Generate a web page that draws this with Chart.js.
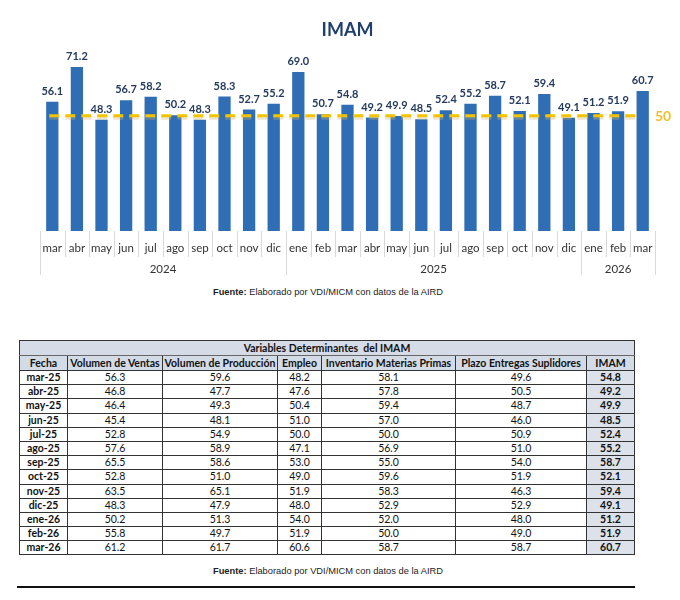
<!DOCTYPE html>
<html>
<head>
<meta charset="utf-8">
<script src="https://cdn.jsdelivr.net/npm/chart.js@4.4.1/dist/chart.umd.min.js"></script>
<style>
  html, body { margin:0; padding:0; background:#fff; width:680px; height:600px; overflow:hidden; }
  #chartWrap { position:absolute; left:0; top:0; width:680px; height:285px; }
  .fuente { position:absolute; left:0; width:656px; text-align:center; font-family:"Liberation Sans", Arial, sans-serif; font-size:9.3px; color:#222; }
  .fuente b { font-weight:bold; }
  #tbl { position:absolute; left:19px; top:340px; width:615px; border-collapse:collapse; table-layout:fixed;
         font-family:Lato, "Open Sans", sans-serif; font-size:10.5px; color:#111; border:1.5px solid #555; }
  #tbl td, #tbl th { padding:0; text-align:center; border:1px solid #333; white-space:nowrap; overflow:hidden; }
  #tbl td { height:13.2px; line-height:13px; }
  #tbl th { height:14px; line-height:14px; font-weight:bold; background:#D3DBE7; }
  #tbl tr.title th { background:#D5DCE8; border-bottom:1px solid #666; }
  #tbl td.fecha { font-weight:bold; }
  #tbl td.imam { font-weight:bold; background:#DCE1EA; }
  #rule { position:absolute; left:17px; top:586px; width:618px; height:2px; background:#111; }
</style>
</head>
<body>
<div id="chartWrap"><canvas id="c" width="680" height="285"></canvas></div>
<div class="fuente" style="top:287px;"><b>Fuente:</b> Elaborado por VDI/MICM con datos de la AIRD</div>
<table id="tbl"></table>
<div class="fuente" style="top:566px;"><b>Fuente:</b> Elaborado por VDI/MICM con datos de la AIRD</div>
<div id="rule"></div>
<script>
// ---------- Chart data ----------
const months = ['mar','abr','may','jun','jul','ago','sep','oct','nov','dic',
                'ene','feb','mar','abr','may','jun','jul','ago','sep','oct','nov','dic',
                'ene','feb','mar'];
const imamValues = [56.1,71.2,48.3,56.7,58.2,50.2,48.3,58.3,52.7,55.2,
                    69.0,50.7,54.8,49.2,49.9,48.5,52.4,55.2,58.7,52.1,59.4,49.1,
                    51.2,51.9,60.7];
const yearLabels = ['2024','2025','2026'];
const yearSpans = [10,12,3];
const threshold = 50;

// ---------- Table data ----------
const tableTitle = 'Variables Determinantes\u00a0 del IMAM';
const tableHeaders = ['Fecha','Volumen de Ventas','Volumen de Producción','Empleo','Inventario Materias Primas','Plazo Entregas Suplidores','IMAM'];
const fechas = ['mar-25','abr-25','may-25','jun-25','jul-25','ago-25','sep-25','oct-25','nov-25','dic-25','ene-26','feb-26','mar-26'];
const volVentas = ['56.3','46.8','46.4','45.4','52.8','57.6','65.5','52.8','63.5','48.3','50.2','55.8','61.2'];
const volProduccion = ['59.6','47.7','49.3','48.1','54.9','58.9','58.6','51.0','65.1','47.9','51.3','49.7','61.7'];
const empleo = ['48.2','47.6','50.4','51.0','50.0','47.1','53.0','49.0','51.9','48.0','54.0','51.9','60.6'];
const inventario = ['58.1','57.8','59.4','57.0','50.0','56.9','55.0','59.6','58.3','52.9','52.0','50.0','58.7'];
const plazo = ['49.6','50.5','48.7','46.0','50.9','51.0','54.0','51.9','46.3','52.9','48.0','49.0','58.7'];
const imamTabla = ['54.8','49.2','49.9','48.5','52.4','55.2','58.7','52.1','59.4','49.1','51.2','51.9','60.7'];

// build table
(function(){
  const t = document.getElementById('tbl');
  const widths = [48,95,115,44,134,131,48];
  let cg = '<colgroup>' + widths.map(w=>'<col style="width:'+w+'px">').join('') + '</colgroup>';
  let h = cg + '<tr class="title"><th colspan="7">' + tableTitle + '</th></tr>';
  h += '<tr>' + tableHeaders.map(x=>'<th>'+x+'</th>').join('') + '</tr>';
  for (let i=0;i<fechas.length;i++){
    h += '<tr><td class="fecha">'+fechas[i]+'</td><td>'+volVentas[i]+'</td><td>'+volProduccion[i]+'</td><td>'+empleo[i]+
         '</td><td>'+inventario[i]+'</td><td>'+plazo[i]+'</td><td class="imam">'+imamTabla[i]+'</td></tr>';
  }
  t.innerHTML = h;
})();

// ---------- Plugins ----------
const decorPlugin = {
  id:'decor',
  afterDatasetsDraw(chart){
    const ctx = chart.ctx, x = chart.scales.x, y = chart.scales.y, ca = chart.chartArea;
    // threshold dashed line
    const y50 = y.getPixelForValue(threshold);
    const x0 = x.getPixelForValue(0) - 3, x1 = x.getPixelForValue(months.length-1) - 5;
    ctx.save();
    ctx.strokeStyle = 'rgba(200,180,120,0.35)';
    ctx.lineWidth = 4;
    ctx.setLineDash([10,6]);
    ctx.beginPath(); ctx.moveTo(x0, y50+2); ctx.lineTo(x1, y50+2); ctx.stroke();
    ctx.strokeStyle = '#F5C300';
    ctx.lineWidth = 3;
    ctx.beginPath(); ctx.moveTo(x0, y50); ctx.lineTo(x1, y50); ctx.stroke();
    ctx.setLineDash([]);
    ctx.fillStyle = '#F2C02A';
    ctx.font = 'bold 14px Lato, sans-serif';
    ctx.textAlign = 'left'; ctx.textBaseline = 'middle';
    ctx.fillText(String(threshold), x.right, y50 + 1);
    // value labels
    const meta = chart.getDatasetMeta(0);
    ctx.fillStyle = '#243a5e';
    ctx.font = 'bold 11px Lato, sans-serif';
    ctx.textAlign = 'center'; ctx.textBaseline = 'bottom';
    meta.data.forEach((bar,i)=>{
      ctx.fillText(imamValues[i].toFixed(1), bar.x, bar.y - 5);
    });
    // separators
    const n = months.length;
    const w = (x.right - x.left)/n;
    const bounds = [0];
    yearSpans.reduce((acc,s)=>{ bounds.push(acc+s); return acc+s; },0);
    ctx.strokeStyle = '#D9D9D9';
    ctx.lineWidth = 1;
    for (let i=0;i<=n;i++){
      const px = Math.round(x.left + i*w) + 0.5;
      const long = bounds.includes(i);
      ctx.beginPath(); ctx.moveTo(px, ca.bottom); ctx.lineTo(px, ca.bottom + (long ? 44 : 26)); ctx.stroke();
    }
    // year labels
    ctx.fillStyle = '#333';
    ctx.font = '11.5px Lato, sans-serif';
    ctx.textBaseline = 'middle';
    for (let g=0; g<yearLabels.length; g++){
      const cx = x.left + (bounds[g] + bounds[g+1]) / 2 * w;
      ctx.fillText(yearLabels[g], cx, ca.bottom + 38);
    }
    ctx.restore();
  }
};

new Chart(document.getElementById('c'), {
  type:'bar',
  data:{
    labels: months,
    datasets:[{
      data: imamValues,
      backgroundColor:'#2F6EB5',
      borderWidth:0,
      barPercentage:0.5,
      categoryPercentage:1.0
    }]
  },
  options:{
    responsive:false,
    animation:false,
    devicePixelRatio: 1,
    layout:{ padding:{ left:40, right:25, top:0, bottom:0 } },
    plugins:{
      legend:{ display:false },
      tooltip:{ enabled:false },
      title:{ display:true, text:'IMAM', color:'#1F3F6E',
              font:{ family:'Lato, sans-serif', size:18, weight:'bold' },
              padding:{ top:19, bottom:6 } }
    },
    scales:{
      x:{
        grid:{ display:false, drawTicks:false },
        border:{ display:false },
        ticks:{ color:'#333', font:{ family:'Lato, sans-serif', size:11.5 }, padding:10, maxRotation:0, autoSkip:false },
        afterFit(scale){ scale.height = 54; }
      },
      y:{ display:false, min:0, max:80 }
    }
  },
  plugins:[decorPlugin]
});
</script>
</body>
</html>
